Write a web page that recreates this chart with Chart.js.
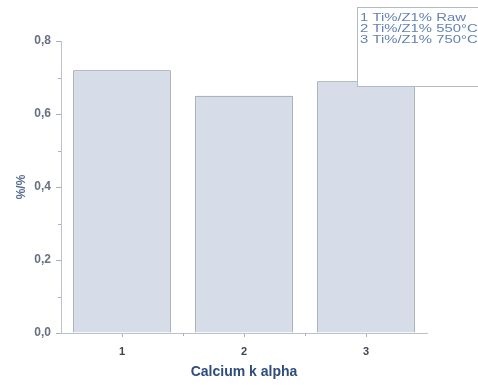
<!DOCTYPE html>
<html>
<head>
<meta charset="utf-8">
<script src="https://cdn.jsdelivr.net/npm/chart.js@4/dist/chart.umd.min.js"></script>
<style>
    html, body { margin: 0; padding: 0; background: #ffffff; }
    #wrap { width: 478px; height: 385px; }
</style>
</head>
<body>
<div id="wrap"><canvas id="chart" width="478" height="385"></canvas></div>
<script>
// ============================================
// DATA
// ============================================
const categories = ['1', '2', '3'];
const values = [0.72, 0.65, 0.69];
const yTickLabels = ['0,0', '0,2', '0,4', '0,6', '0,8'];
const yMinorTicks = [0.1, 0.3, 0.5, 0.7];
const legendLabels = ['1 Ti%/Z1% Raw', '2 Ti%/Z1% 550°C', '3 Ti%/Z1% 750°C'];
const xTitle = 'Calcium k alpha';
const yTitle = '%/%';

const FONT = '"Liberation Sans", Arial, sans-serif';

// ============================================
// MINOR TICKS + LEGEND BOX
// ============================================
const extrasPlugin = {
    id: 'extras',
    afterDraw(chart) {
        const ctx = chart.ctx;
        const x = chart.scales.x;
        const y = chart.scales.y;
        const area = chart.chartArea;

        ctx.save();
        ctx.strokeStyle = '#a9b0ba';
        ctx.lineWidth = 1;

        // minor ticks on y
        yMinorTicks.forEach(v => {
            const py = Math.round(y.getPixelForValue(v)) + 0.5;
            ctx.beginPath();
            ctx.moveTo(area.left - 3, py);
            ctx.lineTo(area.left, py);
            ctx.stroke();
        });

        // minor ticks on x, halfway between categories
        for (let i = 0; i < categories.length - 1; i++) {
            const px = Math.round((x.getPixelForValue(i) + x.getPixelForValue(i + 1)) / 2) + 0.5;
            ctx.beginPath();
            ctx.moveTo(px, area.bottom);
            ctx.lineTo(px, area.bottom + 3);
            ctx.stroke();
        }

        // legend box (cut by the right edge, like the reference)
        const bx = 357, by = 7, bw = 130, bh = 79;
        ctx.fillStyle = '#ffffff';
        ctx.fillRect(bx, by, bw, bh);
        ctx.strokeStyle = '#b4bac3';
        ctx.strokeRect(bx + 0.5, by + 0.5, bw, bh);

        ctx.fillStyle = '#6482b2';
        ctx.font = '11px ' + FONT;
        ctx.textBaseline = 'middle';
        legendLabels.forEach((t, i) => {
            ctx.save();
            ctx.translate(bx + 3, by + 11 + i * 11);
            ctx.scale(1.35, 1);
            ctx.fillText(t, 0, 0);
            ctx.restore();
        });
        ctx.restore();
    }
};

// ============================================
// CHART
// ============================================
const ctx = document.getElementById('chart').getContext('2d');

new Chart(ctx, {
    type: 'bar',
    data: {
        labels: categories,
        datasets: [{
            data: values,
            backgroundColor: '#d6dde9',
            borderColor: '#7f8896',
            borderWidth: 1,
            borderSkipped: 'bottom',
            barPercentage: 1,
            categoryPercentage: 0.8
        }]
    },
    options: {
        responsive: false,
        animation: false,
        layout: {
            padding: { left: 0, right: 51, top: 41, bottom: 0 }
        },
        plugins: {
            legend: { display: false },
            tooltip: { enabled: false }
        },
        scales: {
            x: {
                afterFit: (s) => { s.height = 52; },
                grid: {
                    offset: false,
                    drawOnChartArea: false,
                    tickLength: 4,
                    color: '#a9b0ba'
                },
                border: { color: '#bcc2cb', width: 1 },
                ticks: {
                    color: '#3e4653',
                    padding: 8,
                    font: { family: FONT, size: 11, weight: 'bold' }
                },
                title: {
                    display: true,
                    text: xTitle,
                    color: '#2e4c7c',
                    padding: { top: 0, bottom: 4 },
                    font: { family: FONT, size: 14, weight: 'bold' }
                }
            },
            y: {
                min: 0,
                max: 0.8,
                afterFit: (s) => { s.width = 61; },
                grid: {
                    drawOnChartArea: false,
                    tickLength: 5,
                    color: '#a9b0ba'
                },
                border: { color: '#bcc2cb', width: 1 },
                ticks: {
                    stepSize: 0.2,
                    color: '#677082',
                    padding: 5,
                    font: { family: FONT, size: 12, weight: 'bold' },
                    callback: (v, i) => yTickLabels[i]
                },
                title: {
                    display: true,
                    text: yTitle,
                    color: '#5a6e90',
                    padding: { top: 14, bottom: 0 },
                    font: { family: FONT, size: 12, weight: 'bold' }
                }
            }
        }
    },
    plugins: [extrasPlugin]
});
</script>
</body>
</html>
